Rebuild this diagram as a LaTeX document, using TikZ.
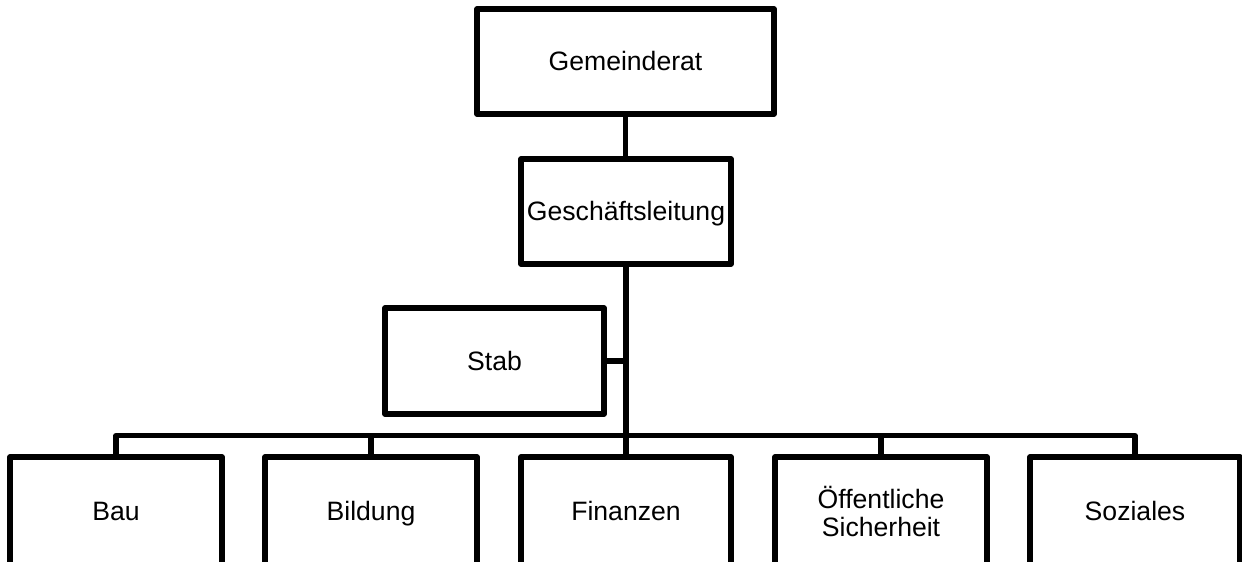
\documentclass[tikz,border=0pt]{standalone}
\usepackage{fontspec}
\setmainfont{Liberation Sans}
\begin{document}
\begin{tikzpicture}[x=1pt,y=1pt,
  box/.style={draw=black, line width=5.6pt, line join=round, rectangle, inner sep=0pt,
    align=center, font=\fontsize{26.6}{28}\selectfont, fill=white},
  one/.style={text height=19pt, text depth=0pt},
  conn/.style={draw=black, line width=5.4pt, line join=round}]
\useasboundingbox (0,0) rectangle (1242,562);
\clip (0,0) rectangle (1242,562);
\fill[white] (0,0) rectangle (1242,562);
\node[box, one, minimum width=297pt, minimum height=105pt] (gr) at (625.5,500.5) {Gemeinderat};
\node[box, one, minimum width=210pt, minimum height=105pt] (gl) at (626,350.5) {Geschäftsleitung};
\node[box, one, minimum width=219pt, minimum height=106pt] (stab) at (494.5,201) {Stab};
\node[box, one, minimum width=212pt, minimum height=108pt] (bau) at (116,51) {Bau};
\node[box, one, minimum width=212pt, minimum height=108pt] (bil) at (371,51) {Bildung};
\node[box, one, minimum width=210pt, minimum height=108pt] (fin) at (626,51) {Finanzen};
\node[box, minimum width=212pt, minimum height=108pt] (oef) at (881,51) {Öffentliche\\Sicherheit};
\node[box, one, minimum width=210pt, minimum height=108pt] (soz) at (1135,51) {Soziales};
\coordinate (bus) at (625.5,126.5);
\draw[conn] (gr.south) -- (gr.south |- gl.north);
\draw[conn] (gl.south) -- (gl.south |- bus);
\draw[conn] (stab.east) -- (stab.east -| bus);
\draw[conn] (bau.north) -- (bau.north |- bus) -- (soz.north |- bus) -- (soz.north);
\draw[conn] (bil.north) -- (bil.north |- bus);
\draw[conn] (fin.north) -- (fin.north |- bus);
\draw[conn] (oef.north) -- (oef.north |- bus);
\end{tikzpicture}
\end{document}
